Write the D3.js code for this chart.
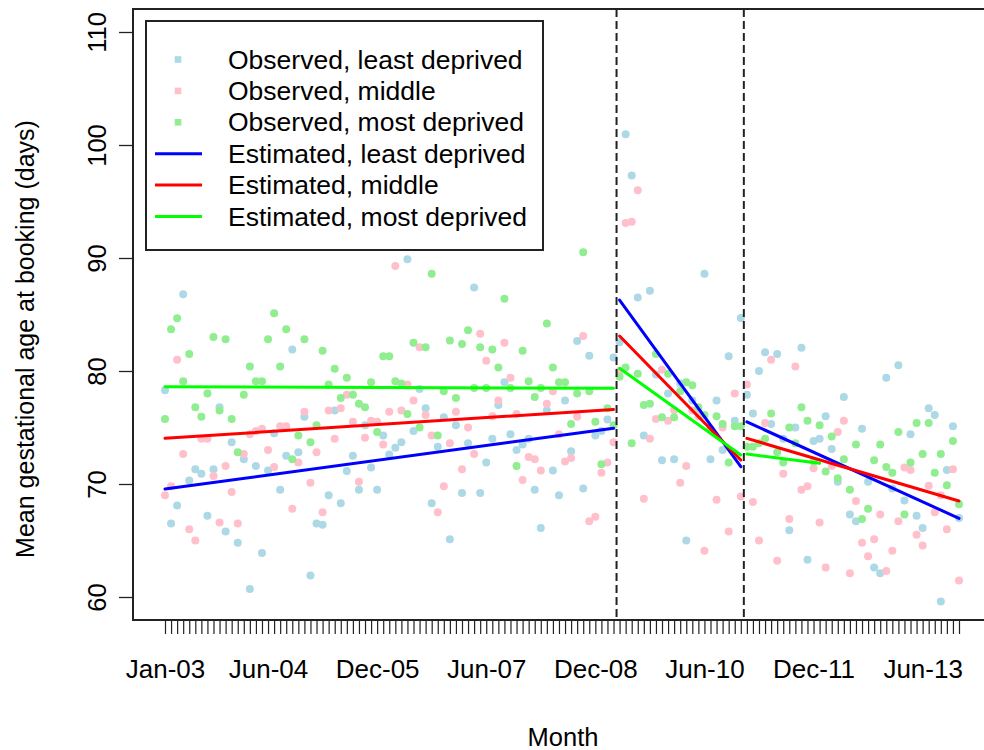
<!DOCTYPE html>
<html>
<head>
<meta charset="utf-8">
<script src="https://cdn.jsdelivr.net/npm/d3@7"></script>
<style>
  html, body { margin: 0; padding: 0; background: #fff; }
  svg { display: block; }
  text { font-family: "Liberation Sans", Arial, Helvetica, sans-serif; fill: #000; }
</style>
</head>
<body>
<svg id="chart" width="984" height="750"></svg>
<script>
// Monthly series, Jan 2003 .. Dec 2013 (132 months)
const nMonths = 132;

const tickLabels = ["Jan-03", "Jun-04", "Dec-05", "Jun-07", "Dec-08", "Jun-10", "Dec-11", "Jun-13"];
const tickIndex  = [0, 17, 35, 53, 71, 89, 107, 125];
const yTicks = [60, 70, 80, 90, 100, 110];

// Observed mean gestational age at booking (days)
const obsLeast = [
  78.3, 66.5, 68.1, 86.8, 70.3, 71.3, 70.9, 67.2, 71.3, 76.8, 65.8, 73.7,
  64.8, 72.2, 60.7, 71.6, 63.9, 71.2, 74.5, 69.5, 72.5, 81.9, 72.8, 75.95,
  61.9, 66.5, 66.4, 69.0, 76.5, 68.3, 71.15, 72.5, 69.5, 75.2, 71.45, 69.5,
  74.3, 72.6, 73.2, 73.7, 89.9, 74.7, 78.4, 76.7, 68.3, 73.3, 75.9, 65.1,
  75.2, 69.2, 73.6, 87.4, 69.2, 71.9, 74.0, 77.0, 79.0, 74.4, 73.0, 73.5,
  74.0, 69.5, 66.1, 76.5, 71.2, 69.0, 77.4, 72.9, 82.65, 69.6, 81.35, 74.3,
  74.7, 75.7, 81.2, 82.55, 100.95, 97.3, 86.5, 74.3, 87.1, 79.7, 72.1, 78.0,
  72.2, 78.9, 65.0, 77.4, 76.6, 88.6, 72.2, 77.4, 73.0, 81.3, 75.6, 84.7,
  77.9, 76.25, 80.0, 81.65, 75.3, 81.5, 74.0, 65.9, 75.0, 82.06, 63.3, 73.8,
  74.0, 76.0, 73.1, 70.2, 77.7, 67.3, 66.7, 74.9, 70.2, 62.6, 62.1, 79.4,
  69.6, 80.5, 68.55, 74.4, 67.2, 66.1, 76.7, 76.1, 59.6, 71.25, 75.1, 67.0
];
const obsMiddle = [
  69.0, 69.8, 81.0, 72.65, 66.0, 65.0, 74.0, 74.0, 70.7, 66.6, 71.6, 69.3,
  66.5, 72.65, 74.4, 74.7, 74.9, 73.0, 71.5, 75.1, 75.1, 67.8, 71.9, 76.4,
  70.1, 72.8, 67.5, 76.5, 74.0, 76.7, 77.9, 75.5, 70.2, 74.1, 75.6, 75.5,
  73.5, 76.4, 89.3, 76.5, 78.8, 77.4, 82.1, 76.1, 74.3, 67.5, 69.8, 73.6,
  76.4, 71.3, 75.0, 72.65, 83.3, 80.9, 76.0, 77.4, 82.5, 79.4, 76.2, 70.35,
  72.4, 72.2, 71.2, 77.1, 78.2, 74.4, 72.0, 72.3, 75.95, 83.1, 66.7, 67.1,
  71.0, 71.9, 73.7, 80.0, 93.1, 93.2, 96.0, 68.7, 74.0, 75.75, 80.1, 75.6,
  76.55, 70.1, 71.6, 76.5, 76.0, 64.1, 74.9, 68.6, 75.0, 65.8, 78.0, 68.9,
  78.8, 68.4, 65.0, 75.4, 81.0, 63.2, 70.9, 66.9, 80.4, 69.5, 69.8, 71.4,
  66.6, 62.6, 71.6, 74.6, 75.6, 62.1, 68.5, 64.8, 63.6, 65.1, 67.3, 62.3,
  64.1, 66.7, 71.45, 71.25, 65.5, 64.55, 69.85, 67.5, 69.0, 66.0, 71.3, 61.45
];
const obsMost = [
  75.75, 83.7, 84.66, 79.1, 81.5, 76.8, 75.95, 78.0, 83.0, 76.5, 82.8, 75.75,
  72.8, 77.9, 80.4, 79.1, 79.1, 82.8, 85.1, 80.4, 83.7, 72.2, 74.3, 82.8,
  73.7, 75.2, 81.8, 78.8, 80.2, 77.6, 79.4, 77.9, 77.1, 76.8, 79.0, 74.6,
  81.3, 81.3, 79.1, 78.9, 76.2, 82.5, 75.0, 82.1, 88.6, 74.3, 78.2, 82.7,
  77.6, 82.4, 83.6, 78.5, 82.1, 78.5, 81.9, 80.3, 86.4, 78.5, 71.6, 81.8,
  79.1, 77.7, 78.5, 84.2, 80.3, 79.0, 79.0, 75.3, 78.0, 90.5, 78.2, 75.5,
  71.75, 76.7, 75.2, 79.5, 80.3, 73.6, 79.75, 77.0, 77.1, 81.5, 75.9, 79.75,
  75.9, 78.2, 79.0, 78.75, 76.8, 76.1, 74.8, 76.0, 75.3, 71.9, 75.1, 75.1,
  73.3, 73.3, 73.6, 74.0, 76.25, 72.8, 71.9, 75.0, 73.6, 76.8, 75.6, 72.0,
  75.2, 71.1, 74.2, 70.5, 72.2, 69.5, 73.5, 66.9, 67.8, 72.1, 73.5, 71.5,
  71.0, 74.6, 67.3, 71.9, 75.4, 72.65, 75.4, 71.0, 72.65, 69.9, 73.8, 68.2
];

// Segmented regression fits: [first month, last month, fitted start, fitted end]
const estLeast  = [[0, 74, 69.56, 74.93], [75, 95, 86.28, 71.53], [96, 131, 75.50, 66.96]];
const estMiddle = [[0, 74, 74.04, 76.60], [75, 95, 83.10, 72.12], [96, 131, 74.04, 68.50]];
const estMost   = [[0, 74, 78.61, 78.47], [75, 95, 80.24, 72.57], [96, 108, 72.65, 71.83]];

// Interruption points (between months)
const breaks = [74.5, 95.5];

const seriesNames = [
  "Observed, least deprived", "Observed, middle", "Observed, most deprived",
  "Estimated, least deprived", "Estimated, middle", "Estimated, most deprived"
];
const pointColors = ["#ADD8E6", "#FFC0CB", "#90EE90"];
const lineColors  = ["#0000FF", "#FF0000", "#00FF00"];

// ---- layout ----
const box = { left: 133, right: 993, top: 9, bottom: 620 };
const svg = d3.select("#chart");
svg.append("rect").attr("width", 984).attr("height", 750).attr("fill", "#fff");

const x = d3.scaleLinear().domain([0, nMonths - 1]).range([165, 959]);
const y = d3.scaleLinear().domain([60, 110]).range([597, 32]);

const plot = svg.append("g");

// observed points
[obsLeast, obsMiddle, obsMost].forEach((vals, s) => {
  plot.append("g").selectAll("circle")
    .data(vals)
    .join("circle")
    .attr("cx", (d, i) => x(i))
    .attr("cy", d => y(d))
    .attr("r", 4)
    .attr("fill", pointColors[s]);
});

// fitted lines
[estLeast, estMiddle, estMost].forEach((segs, s) => {
  segs.forEach(([i0, i1, v0, v1]) => {
    plot.append("line")
      .attr("x1", x(i0)).attr("y1", y(v0))
      .attr("x2", x(i1)).attr("y2", y(v1))
      .attr("stroke", lineColors[s])
      .attr("stroke-width", 3)
      .attr("stroke-linecap", "round");
  });
});

// interruption markers
plot.selectAll("line.brk")
  .data(breaks)
  .join("line")
  .attr("class", "brk")
  .attr("x1", d => x(d)).attr("x2", d => x(d))
  .attr("y1", box.top).attr("y2", box.bottom)
  .attr("stroke", "#222")
  .attr("stroke-width", 2)
  .attr("stroke-dasharray", "8,4");

// plot frame
svg.append("rect")
  .attr("x", box.left).attr("y", box.top)
  .attr("width", box.right - box.left).attr("height", box.bottom - box.top)
  .attr("fill", "none").attr("stroke", "#222").attr("stroke-width", 2);

// y axis
const yAxis = svg.append("g")
  .attr("transform", `translate(${box.left},0)`)
  .call(d3.axisLeft(y).tickValues(yTicks).tickSize(14).tickFormat(d3.format("d")));
yAxis.select(".domain").remove();
yAxis.selectAll(".tick line").attr("stroke", "#222").attr("stroke-width", 1.3);
yAxis.selectAll(".tick text")
  .attr("x", 0).attr("y", -27).attr("dy", null)
  .attr("transform", "rotate(-90)")
  .attr("text-anchor", "middle")
  .style("font-size", "25.5px")
  .style("font-family", "'Liberation Sans', Arial, sans-serif")
  .attr("fill", "#000");

// x axis: one tick per month, labelled every 18 months
const labelAt = new Map(tickIndex.map((t, k) => [t, tickLabels[k]]));
const xAxis = svg.append("g")
  .attr("transform", `translate(0,${box.bottom})`)
  .call(d3.axisBottom(x).tickValues(d3.range(nMonths)).tickSize(14)
    .tickFormat(i => labelAt.get(i) || ""));
xAxis.select(".domain").attr("stroke", "#222").attr("stroke-width", 1.3)
  .attr("d", `M${x(0)},0H${x(nMonths - 1)}`);
xAxis.selectAll(".tick line").attr("stroke", "#222").attr("stroke-width", 1.2);
xAxis.selectAll(".tick text")
  .attr("y", 57.5).attr("dy", null)
  .style("font-size", "26px")
  .style("font-family", "'Liberation Sans', Arial, sans-serif")
  .attr("fill", "#000");

// axis titles
svg.append("text")
  .attr("x", (box.left + box.right) / 2).attr("y", 746)
  .attr("text-anchor", "middle")
  .style("font-size", "25.5px")
  .text("Month");
svg.append("text")
  .attr("transform", `translate(34,339) rotate(-90)`)
  .attr("text-anchor", "middle")
  .style("font-size", "25px")
  .text("Mean gestational age at booking (days)");

// legend
const legend = svg.append("g");
legend.append("rect")
  .attr("x", 146).attr("y", 21).attr("width", 397).attr("height", 229)
  .attr("fill", "#fff").attr("stroke", "#222").attr("stroke-width", 2);
const rowY = k => 59.5 + k * 31.4;
seriesNames.forEach((name, k) => {
  if (k < 3) {
    legend.append("rect")
      .attr("x", 178 - 3.3).attr("y", rowY(k) - 3.3)
      .attr("width", 6.6).attr("height", 6.6)
      .attr("fill", pointColors[k]);
  } else {
    legend.append("line")
      .attr("x1", 155).attr("x2", 202)
      .attr("y1", rowY(k)).attr("y2", rowY(k))
      .attr("stroke", lineColors[k - 3]).attr("stroke-width", 3);
  }
  legend.append("text")
    .attr("x", 228).attr("y", rowY(k) + 9)
    .style("font-size", "26.5px")
    .text(name);
});
</script>
</body>
</html>
